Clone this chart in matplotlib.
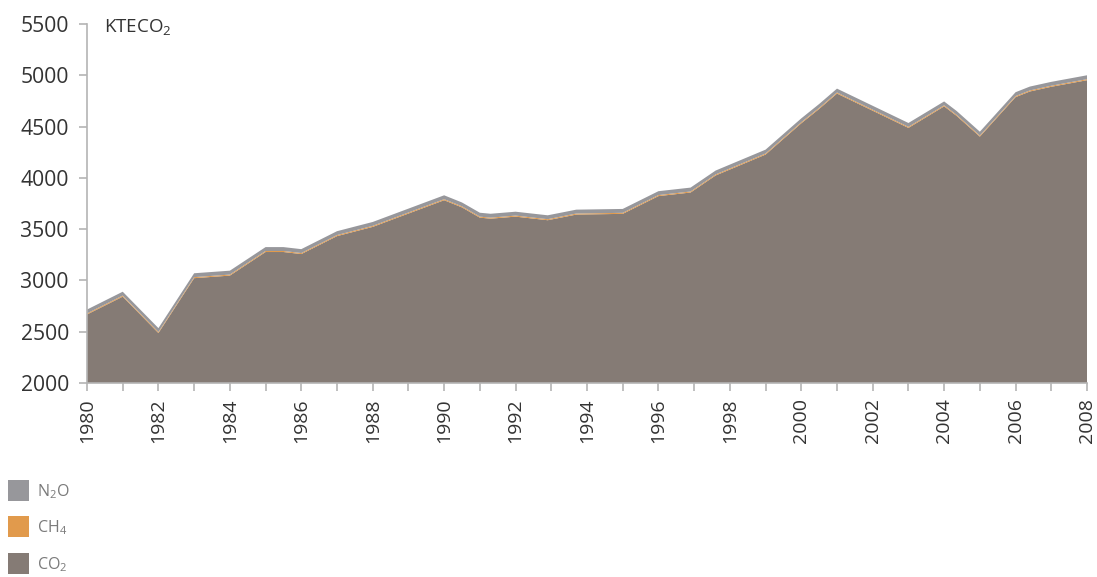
import matplotlib
matplotlib.use("Agg")
import matplotlib.pyplot as plt
from matplotlib.patches import Rectangle

plt.rcParams["font.family"] = ["Open Sans", "DejaVu Sans"]
plt.rcParams["mathtext.fontset"] = "custom"
plt.rcParams["mathtext.rm"] = "Open Sans"
plt.rcParams["mathtext.it"] = "Open Sans:italic"

# ---- data (kt CO2 equivalent) ----
years = [1980.0, 1981.0, 1982.0, 1983.0, 1984.0, 1985.0, 1985.5, 1986.0,
         1987.0, 1988.0, 1989.0, 1990.0, 1990.5, 1991.0, 1991.3, 1992.0,
         1992.9, 1993.7, 1995.0, 1996.0, 1996.9, 1997.6, 1999.0, 2000.0,
         2000.5, 2001.0, 2003.0, 2004.0, 2004.35, 2005.0, 2006.0, 2006.4,
         2007.0, 2008.0]
co2 = [2668, 2842, 2487, 3022, 3047, 3277, 3277, 3257,
       3432, 3522, 3652, 3782, 3712, 3612, 3602, 3622,
       3587, 3642, 3649, 3822, 3857, 4023, 4227, 4532,
       4672, 4822, 4487, 4697, 4604, 4402, 4787, 4842,
       4888, 4952]
ch4 = [10, 10, 10, 10, 10, 10, 10, 10,
       10, 10, 10, 10, 10, 10, 10, 10,
       10, 10, 10, 10, 10, 10, 10, 10,
       10, 10, 10, 10, 10, 10, 10, 10,
       10, 10]
n2o = [38, 38, 38, 38, 38, 38, 38, 38,
       38, 38, 38, 38, 38, 38, 38, 38,
       38, 38, 38, 38, 38, 38, 38, 38,
       38, 38, 38, 38, 38, 38, 38, 38,
       38, 38]
series_labels = ["CO$_{\\mathrm{2}}$", "CH$_{\\mathrm{4}}$", "N$_{\\mathrm{2}}$O"]
unit_label = "KTECO$_{\\mathrm{2}}$"
ytick_values = [2000, 2500, 3000, 3500, 4000, 4500, 5000, 5500]
xtick_major = list(range(1980, 2009, 2))
xtick_minor = list(range(1981, 2009, 2))

c_co2 = "#857b75"
c_ch4 = "#e19a4c"
c_n2o = "#97979b"
axis_grey = "#b4b4b4"

fig = plt.figure(figsize=(10.97, 5.77), dpi=100)
ax = fig.add_axes([87 / 1097, 1 - 383 / 577, 1000 / 1097, 359 / 577])

ax.stackplot(years, co2, ch4, n2o, colors=[c_co2, c_ch4, c_n2o],
             linewidth=0, antialiased=True)

ax.set_xlim(1980, 2008)
ax.set_ylim(2000, 5500)
ax.set_yticks(ytick_values)
ax.set_xticks(xtick_major)
ax.set_xticks(xtick_minor, minor=True)
ax.set_xticklabels([str(y) for y in xtick_major], rotation=90, fontsize=14,
                   color="#333333")
ax.set_yticklabels([str(v) for v in ytick_values], fontsize=15.2,
                   color="#333333")

for s in ["top", "right"]:
    ax.spines[s].set_visible(False)
for s in ["left", "bottom"]:
    ax.spines[s].set_color(axis_grey)
    ax.spines[s].set_linewidth(1.2)

ax.tick_params(axis="both", which="both", direction="out", length=6,
               width=1.2, color=axis_grey)
ax.tick_params(axis="y", pad=7)
ax.tick_params(axis="x", pad=5)

W, H = 1097, 577
fig.text(104 / W, 1 - 17 / H, unit_label, fontsize=13.5, color="#333333",
         va="top", ha="left")

# legend (bottom-left, stacked top to bottom: N2O, CH4, CO2)
legend_items = [(c_n2o, series_labels[2], 480),
                (c_ch4, series_labels[1], 516),
                (c_co2, series_labels[0], 553)]
for col, lab, ytop in legend_items:
    fig.patches.append(Rectangle((8 / W, 1 - (ytop + 21) / H), 21 / W, 21 / H,
                                 transform=fig.transFigure, facecolor=col,
                                 edgecolor="none"))
    fig.text(37 / W, 1 - (ytop + 12) / H, lab, fontsize=11.5, color="#7a7a7a",
             va="center", ha="left")

fig.savefig("out.png", dpi=100)
